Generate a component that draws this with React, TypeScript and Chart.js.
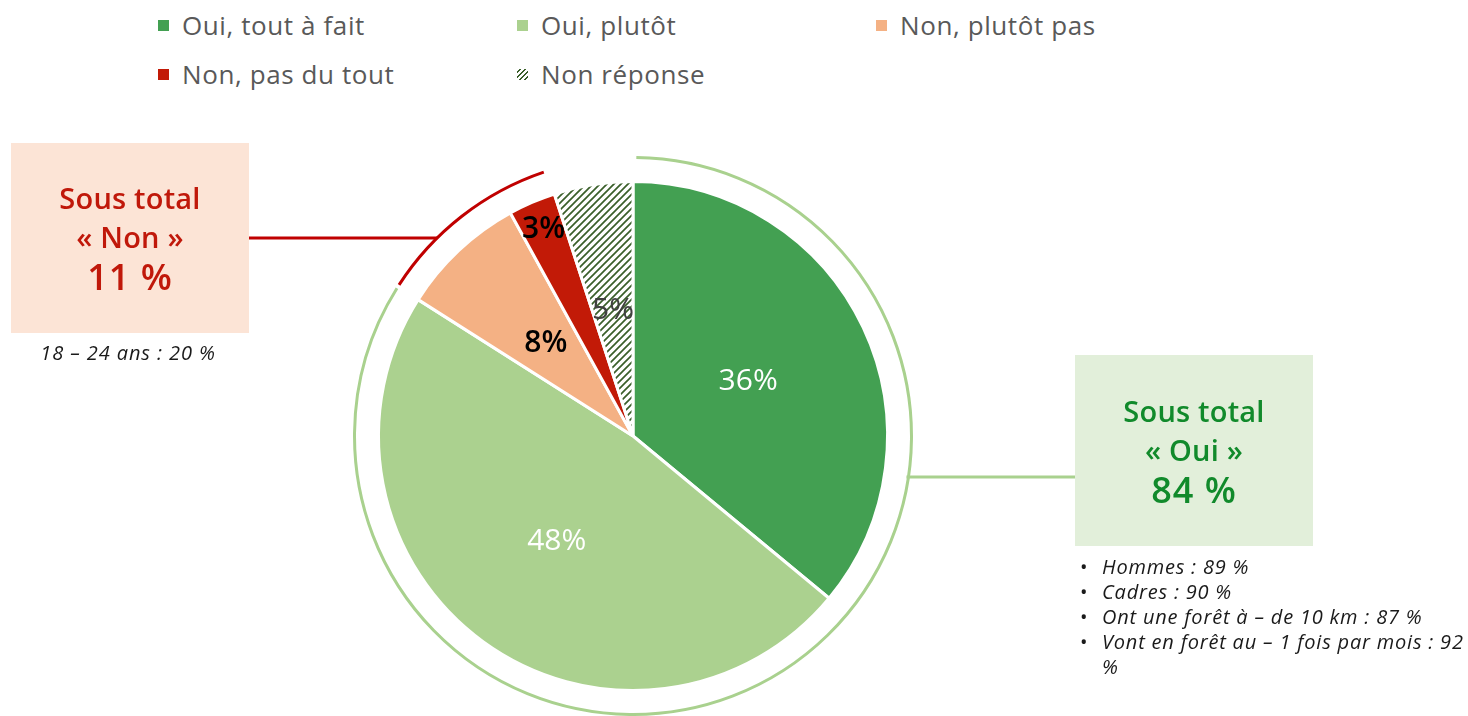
import React, { useEffect, useRef } from 'react';
import { Chart, registerables } from 'chart.js';

Chart.register(...registerables);

const categories = ['Oui, tout à fait', 'Oui, plutôt', 'Non, plutôt pas', 'Non, pas du tout', 'Non réponse'];
const values = [36, 48, 8, 3, 5];
const valueLabels = ['36%', '48%', '8%', '3%', '5%'];
const sliceColors = ['#43A052', '#ABD18F', '#F4B184', '#C21A07', 'hatch'];
const labelColors = ['#FFFFFF', '#FFFFFF', '#000000', '#000000', '#404040'];
const labelRadius = [0.5, 0.51, 0.5, 0.885, 0.5];
const legendOrder = [0, 1, 2, 3, 4];

const ouiGroup = [0, 1];
const nonGroup = [2, 3];
const ouiTitle = ['Sous total', '« Oui »', '84 %'];
const nonTitle = ['Sous total', '« Non »', '11 %'];
const ouiNotes = ['Hommes : 89 %', 'Cadres : 90 %', 'Ont une forêt à – de 10 km : 87 %', 'Vont en forêt au – 1 fois par mois : 92\n%'];
const nonNote = '18 – 24 ans : 20 %';

const HATCH = '#3A5F2A';
const FONT = '"Open Sans", "Noto Sans", sans-serif';

const RED_BOX = { left: 11, top: 143, width: 238, height: 190, lineY: 238 };
const GREEN_BOX = { left: 1075, top: 355, width: 238, height: 191, lineY: 477 };

function makeHatch(ctx: CanvasRenderingContext2D) {
  const pc = document.createElement('canvas');
  pc.width = 7;
  pc.height = 7;
  const p = pc.getContext('2d')!;
  p.fillStyle = '#ffffff';
  p.fillRect(0, 0, 7, 7);
  p.strokeStyle = HATCH;
  p.lineWidth = 1.7;
  p.beginPath();
  p.moveTo(-1, 8);
  p.lineTo(8, -1);
  p.moveTo(-1, 1);
  p.lineTo(1, -1);
  p.moveTo(6, 8);
  p.lineTo(8, 6);
  p.stroke();
  return ctx.createPattern(pc, 'repeat')!;
}

const overlayPlugin = {
  id: 'overlay',
  afterDatasetsDraw(chart: any) {
    const ctx: CanvasRenderingContext2D = chart.ctx;
    const arcs = chart.getDatasetMeta(0).data as any[];
    if (!arcs.length) return;
    const cx = arcs[0].x;
    const cy = arcs[0].y;
    const R = arcs[0].outerRadius + 24;
    ctx.save();
    ctx.textAlign = 'center';
    ctx.textBaseline = 'middle';
    arcs.forEach((arc, i) => {
      const mid = (arc.startAngle + arc.endAngle) / 2;
      const r = arc.outerRadius * labelRadius[i];
      ctx.font = `${i >= 2 && i <= 3 ? 600 : 500} 30px ${FONT}`;
      ctx.fillStyle = labelColors[i];
      ctx.fillText(valueLabels[i], cx + Math.cos(mid) * r, cy + Math.sin(mid) * r);
    });
    ctx.lineWidth = 3;
    const gStart = arcs[ouiGroup[0]].startAngle + 0.012;
    const gEnd = arcs[ouiGroup[ouiGroup.length - 1]].endAngle - 0.006;
    ctx.strokeStyle = '#A9D18E';
    ctx.beginPath();
    ctx.arc(cx, cy, R, gStart, gEnd);
    ctx.stroke();
    const rStart = arcs[nonGroup[0]].startAngle + 0.008;
    const rEnd = arcs[nonGroup[nonGroup.length - 1]].endAngle - 0.012;
    ctx.strokeStyle = '#C00000';
    ctx.beginPath();
    ctx.arc(cx, cy, R, rStart, rEnd);
    ctx.stroke();
    const ry = RED_BOX.lineY;
    const rx = cx - Math.sqrt(R * R - (ry - cy) * (ry - cy));
    ctx.beginPath();
    ctx.moveTo(RED_BOX.left + RED_BOX.width, ry);
    ctx.lineTo(rx, ry);
    ctx.stroke();
    const gy = GREEN_BOX.lineY;
    const gx = cx + Math.sqrt(R * R - (gy - cy) * (gy - cy));
    ctx.strokeStyle = '#A9D18E';
    ctx.beginPath();
    ctx.moveTo(gx - 2, gy);
    ctx.lineTo(GREEN_BOX.left, gy);
    ctx.stroke();
    ctx.restore();
  },
};

const legendCols = [158, 517, 876];
const legendRows = [26, 75];

export default function App() {
  const canvasRef = useRef<HTMLCanvasElement | null>(null);

  useEffect(() => {
    const canvas = canvasRef.current!;
    const ctx = canvas.getContext('2d')!;
    const hatch = makeHatch(ctx);
    const colors = sliceColors.map((c) => (c === 'hatch' ? hatch : c));
    const chart = new Chart(ctx, {
      type: 'pie',
      data: {
        labels: categories,
        datasets: [
          {
            data: values,
            backgroundColor: colors as any,
            borderColor: '#ffffff',
            borderWidth: 3,
            hoverOffset: 0,
          },
        ],
      },
      options: {
        responsive: false,
        animation: false,
        devicePixelRatio: 1,
        rotation: 0,
        layout: { padding: { left: 377, right: 579, top: 180, bottom: 24 } },
        plugins: {
          legend: { display: false },
          tooltip: { enabled: false },
        },
        events: [],
      },
      plugins: [overlayPlugin],
    });
    return () => chart.destroy();
  }, []);

  const boxText = (lines: string[], color: string, box: any) => (
    <div
      style={{
        position: 'absolute',
        left: box.left,
        top: box.top,
        width: box.width,
        height: box.height,
        display: 'flex',
        flexDirection: 'column',
        alignItems: 'center',
        justifyContent: 'center',
        color,
        textAlign: 'center',
      }}
    >
      <div style={{ fontSize: 29, lineHeight: '39px', fontWeight: 600, letterSpacing: 0.2 }}>{lines[0]}</div>
      <div style={{ fontSize: 29, lineHeight: '39px', fontWeight: 600, letterSpacing: 0.2 }}>{lines[1]}</div>
      <div style={{ fontSize: 36, lineHeight: '42px', fontWeight: 600, letterSpacing: 1 }}>{lines[2]}</div>
    </div>
  );

  return (
    <div
      style={{
        position: 'absolute',
        left: 0,
        top: 0,
        width: 1468,
        height: 716,
        background: '#ffffff',
        fontFamily: FONT,
        overflow: 'hidden',
      }}
    >
      {legendOrder.map((idx, k) => {
        const col = k % 3;
        const row = Math.floor(k / 3);
        const c = sliceColors[idx];
        const marker: any = {
          position: 'absolute',
          left: legendCols[col],
          top: legendRows[row] - 6,
          width: 11,
          height: 11,
        };
        if (c === 'hatch') {
          marker.background = `repeating-linear-gradient(-45deg, #ffffff 0px, #ffffff 2px, ${HATCH} 2px, ${HATCH} 3.5px)`;
        } else {
          marker.background = c;
        }
        return (
          <React.Fragment key={idx}>
            <div style={marker} />
            <div
              style={{
                position: 'absolute',
                left: legendCols[col] + 24,
                top: legendRows[row] - 18,
                fontSize: 26,
                letterSpacing: 0.6,
                lineHeight: '34px',
                color: '#595959',
                whiteSpace: 'nowrap',
              }}
            >
              {categories[idx]}
            </div>
          </React.Fragment>
        );
      })}

      <div
        style={{
          position: 'absolute',
          left: RED_BOX.left,
          top: RED_BOX.top,
          width: RED_BOX.width,
          height: RED_BOX.height,
          background: '#FCE4D6',
        }}
      />
      <div
        style={{
          position: 'absolute',
          left: GREEN_BOX.left,
          top: GREEN_BOX.top,
          width: GREEN_BOX.width,
          height: GREEN_BOX.height,
          background: '#E2EFDA',
        }}
      />

      <canvas
        ref={canvasRef}
        width={1468}
        height={716}
        style={{ position: 'absolute', left: 0, top: 0, width: 1468, height: 716 }}
      />

      {boxText(nonTitle, '#C0180A', RED_BOX)}
      {boxText(ouiTitle, '#118A2B', GREEN_BOX)}

      <div
        style={{
          position: 'absolute',
          left: RED_BOX.left - 2,
          top: 340,
          width: RED_BOX.width,
          textAlign: 'center',
          fontStyle: 'italic',
          fontSize: 20,
          letterSpacing: 0.9,
          lineHeight: '26px',
          color: '#1a1a1a',
          whiteSpace: 'nowrap',
        }}
      >
        {nonNote}
      </div>

      <div style={{ position: 'absolute', left: 1080, top: 554, width: 388, color: '#1a1a1a' }}>
        {ouiNotes.map((n, i) => {
          const parts = n.split('\n');
          return (
            <div key={i} style={{ position: 'relative', paddingLeft: 22, fontSize: 20, letterSpacing: 0.8, lineHeight: '25px', fontStyle: 'italic' }}>
              <span style={{ position: 'absolute', left: 0, top: 0, fontStyle: 'normal' }}>•</span>
              {parts.map((p, j) => (
                <div key={j} style={{ whiteSpace: 'nowrap' }}>{p}</div>
              ))}
            </div>
          );
        })}
      </div>
    </div>
  );
}
